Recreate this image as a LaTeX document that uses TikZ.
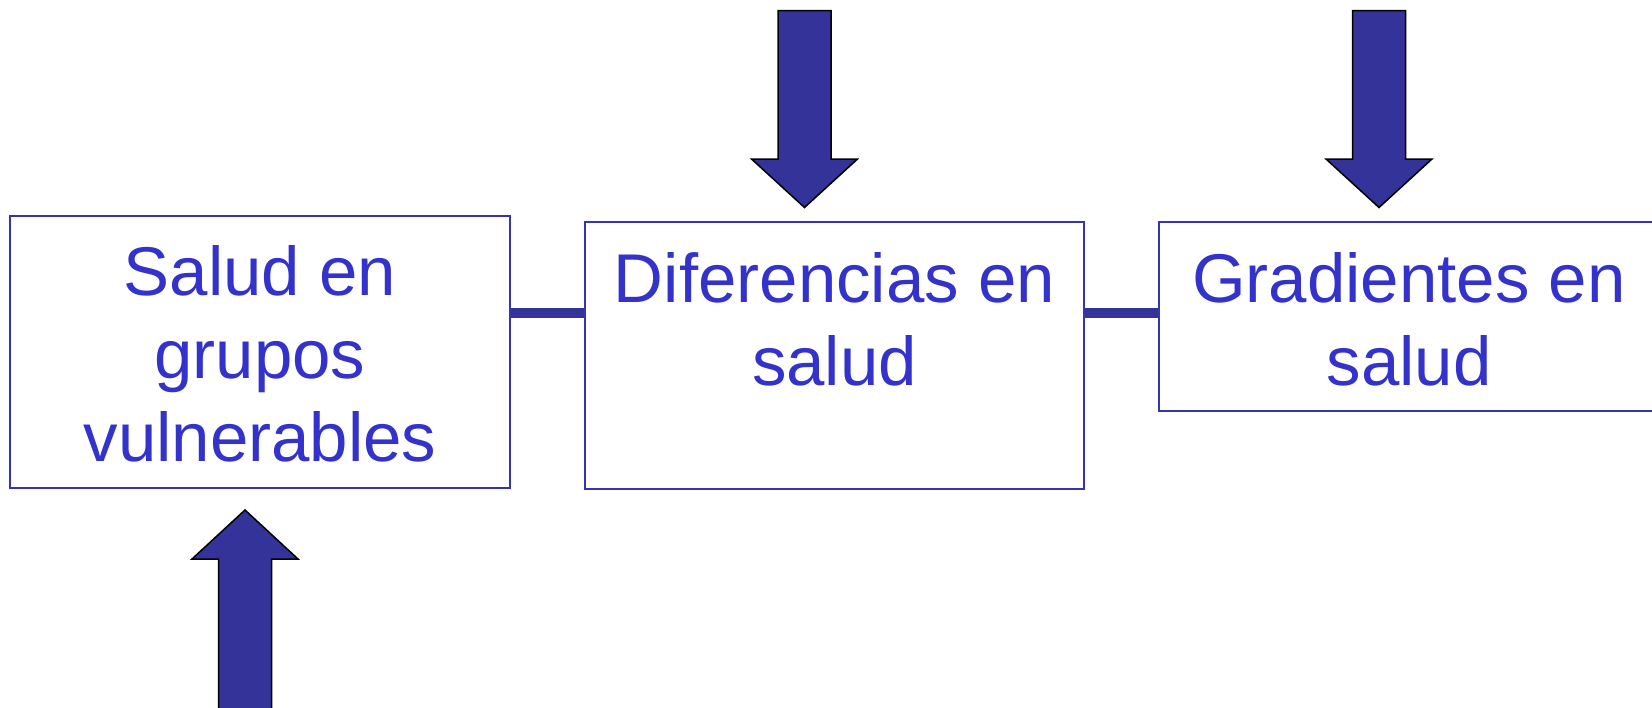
\documentclass[tikz,border=0pt]{standalone}
\usepackage{fontspec}
\setmainfont{Liberation Sans}
\usetikzlibrary{positioning}
\definecolor{boxblue}{HTML}{3535B0}
\definecolor{txtblue}{HTML}{3333CC}
\definecolor{arrowblue}{HTML}{333399}
\tikzset{
  box/.style={draw=boxblue,line width=2.2pt,fill=white,rectangle,inner sep=0pt},
  boxtext/.style={text=txtblue,align=center,inner sep=0pt,font=\fontsize{69}{83}\selectfont},
  link/.style={draw=arrowblue,line width=10pt},
  bigarrow/.style={draw=black,line width=1.5pt,fill=arrowblue,line join=miter},
}
\begin{document}
\begin{tikzpicture}[x=1pt,y=-1pt]
        \useasboundingbox (0,0) rectangle (1652,707);
        %% Boxes
        \node[box,minimum width=499.5pt,minimum height=272pt] (grupos) at (260,352) {};
        \node[box,minimum width=499pt,minimum height=267pt] (diferencias) at (834.5,355.5) {};
        \node[box,minimum width=500pt,minimum height=189pt] (gradientes) at (1409,316.5) {};
        %% Texts
        \node[boxtext,below=30pt of grupos.north] (tgrupos) {Salud en\\grupos\\vulnerables};
        \node[boxtext,below=31pt of diferencias.north] (tdiferencias) {Diferencias en\\salud};
        \node[boxtext,below=31pt of gradientes.north] (tgradientes) {Gradientes en\\salud};
        %% Links
        \coordinate (lvl) at (0,313);
        \draw[link] (grupos.east |- lvl) -- (diferencias.west |- lvl);
        \draw[link] (diferencias.east |- lvl) -- (gradientes.west |- lvl);
        %% Arrows
        \foreach \x/\y/\b/\e in {804.5/207.5/159/10.5,1379/207.5/159/10.5,245/510/559/712}
          \draw[bigarrow] (\x,\y) -- (\x-53,\b) -- (\x-26.5,\b) -- (\x-26.5,\e)
            -- (\x+26.5,\e) -- (\x+26.5,\b) -- (\x+53,\b) -- cycle;
\end{tikzpicture}
\end{document}
